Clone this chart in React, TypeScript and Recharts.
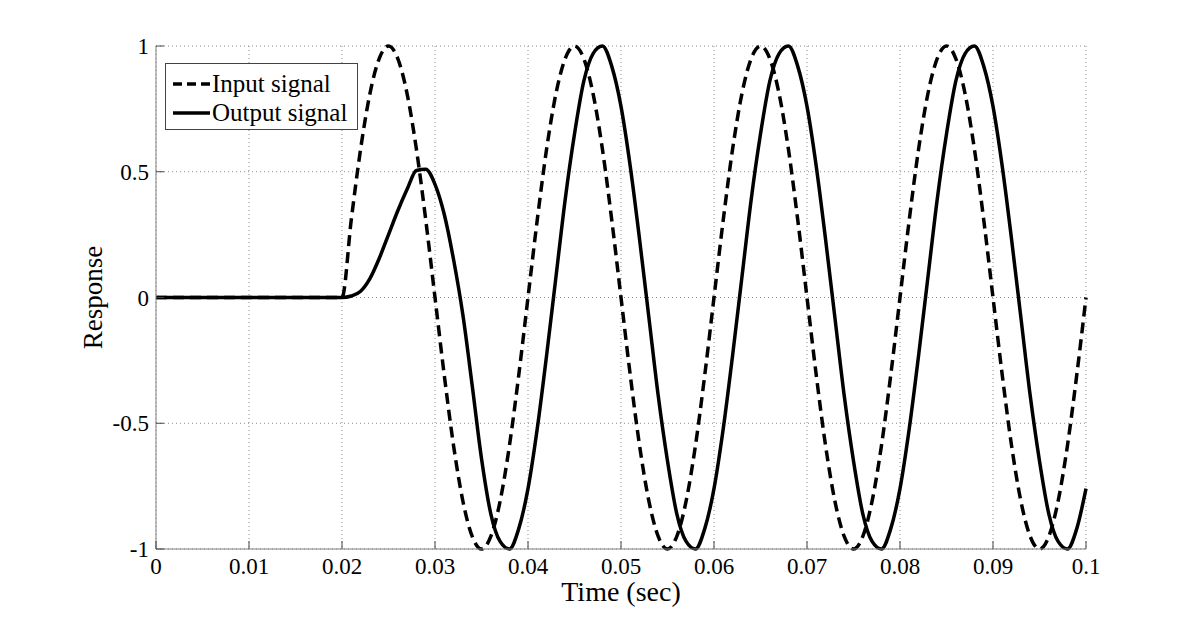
import React from "react";
import {
  LineChart,
  Line,
  XAxis,
  YAxis,
  CartesianGrid,
  Legend,
} from "recharts";

// time samples (sec)
const times = [
  0, 0.001, 0.002, 0.003, 0.004, 0.005, 0.006, 0.007, 0.008, 0.009,
  0.01, 0.011, 0.012, 0.013, 0.014, 0.015, 0.016, 0.017, 0.018, 0.019,
  0.02, 0.021, 0.022, 0.023, 0.024, 0.025, 0.026, 0.027, 0.028, 0.029,
  0.03, 0.031, 0.032, 0.033, 0.034, 0.035, 0.036, 0.037, 0.038, 0.039,
  0.04, 0.041, 0.042, 0.043, 0.044, 0.045, 0.046, 0.047, 0.048, 0.049,
  0.05, 0.051, 0.052, 0.053, 0.054, 0.055, 0.056, 0.057, 0.058, 0.059,
  0.06, 0.061, 0.062, 0.063, 0.064, 0.065, 0.066, 0.067, 0.068, 0.069,
  0.07, 0.071, 0.072, 0.073, 0.074, 0.075, 0.076, 0.077, 0.078, 0.079,
  0.08, 0.081, 0.082, 0.083, 0.084, 0.085, 0.086, 0.087, 0.088, 0.089,
  0.09, 0.091, 0.092, 0.093, 0.094, 0.095, 0.096, 0.097, 0.098, 0.099,
  0.1,
];

const inputSignal = [
  0, 0, 0, 0, 0, 0, 0, 0, 0, 0,
  0, 0, 0, 0, 0, 0, 0, 0, 0, 0,
  0, 0.31, 0.59, 0.81, 0.95, 1, 0.95, 0.81, 0.59, 0.31,
  0, -0.31, -0.59, -0.81, -0.95, -1, -0.95, -0.81, -0.59, -0.31,
  0, 0.31, 0.59, 0.81, 0.95, 1, 0.95, 0.81, 0.59, 0.31,
  0, -0.31, -0.59, -0.81, -0.95, -1, -0.95, -0.81, -0.59, -0.31,
  0, 0.31, 0.59, 0.81, 0.95, 1, 0.95, 0.81, 0.59, 0.31,
  0, -0.31, -0.59, -0.81, -0.95, -1, -0.95, -0.81, -0.59, -0.31,
  0, 0.31, 0.59, 0.81, 0.95, 1, 0.95, 0.81, 0.59, 0.31,
  0, -0.31, -0.59, -0.81, -0.95, -1, -0.95, -0.81, -0.59, -0.31,
  0,
];

const outputSignal = [
  0, 0, 0, 0, 0, 0, 0, 0, 0, 0,
  0, 0, 0, 0, 0, 0, 0, 0, 0, 0,
  0, 0.006, 0.025, 0.075, 0.155, 0.25, 0.345, 0.43, 0.505, 0.51,
  0.45, 0.33, 0.15, -0.07, -0.35, -0.64, -0.86, -0.97, -1, -0.92,
  -0.76, -0.52, -0.23, 0.08, 0.39, 0.65, 0.86, 0.97, 1, 0.92,
  0.76, 0.52, 0.23, -0.08, -0.39, -0.65, -0.86, -0.97, -1, -0.92,
  -0.76, -0.52, -0.23, 0.08, 0.39, 0.65, 0.86, 0.97, 1, 0.92,
  0.76, 0.52, 0.23, -0.08, -0.39, -0.65, -0.86, -0.97, -1, -0.92,
  -0.76, -0.52, -0.23, 0.08, 0.39, 0.65, 0.86, 0.97, 1, 0.92,
  0.76, 0.52, 0.23, -0.08, -0.39, -0.65, -0.86, -0.97, -1, -0.92,
  -0.76,
];

const xTicks = [0, 0.01, 0.02, 0.03, 0.04, 0.05, 0.06, 0.07, 0.08, 0.09, 0.1];
const yTicks = [-1, -0.5, 0, 0.5, 1];

const FONT = '"Liberation Serif", "Times New Roman", serif';
const AXIS = "#808080";
const TICK = "#444";

const data = times.map((t, i) => ({
  t,
  input: inputSignal[i],
  output: outputSignal[i],
}));

function XTick({ x, y, payload }: any) {
  return (
    <g>
      <line x1={x} x2={x} y1={y} y2={y - 8} stroke={TICK} strokeWidth={1} />
      <text x={x} y={y + 25} textAnchor="middle" fontFamily={FONT} fontSize={23} fill="#000">
        {payload.value}
      </text>
    </g>
  );
}

function YTick({ x, y, payload }: any) {
  return (
    <g>
      <line x1={x} x2={x + 8} y1={y} y2={y} stroke={TICK} strokeWidth={1} />
      <text x={x - 7} y={y + 8} textAnchor="end" fontFamily={FONT} fontSize={23} fill="#000">
        {payload.value}
      </text>
    </g>
  );
}

const legendRows = [
  { key: "input", label: "Input signal", dash: "9 5" },
  { key: "output", label: "Output signal", dash: undefined },
];

function LegendBox() {
  return (
    <div
      style={{
        width: 191,
        height: 65,
        border: `1px solid ${TICK}`,
        background: "#fff",
        fontFamily: FONT,
        fontSize: 25,
        color: "#000",
        boxSizing: "content-box",
      }}
    >
      {legendRows.map((r, i) => (
        <div
          key={r.key}
          style={{ position: "absolute", left: 0, top: 6 + i * 29, height: 29, display: "flex", alignItems: "center" }}
        >
          <svg width={47} height={10} style={{ display: "block" }}>
            <line x1={8} x2={45} y1={5} y2={5} stroke="#000" strokeWidth={3.5} strokeDasharray={r.dash} />
          </svg>
          <span style={{ whiteSpace: "nowrap", lineHeight: "29px" }}>{r.label}</span>
        </div>
      ))}
    </div>
  );
}

export default function App() {
  return (
    <div style={{ position: "absolute", left: 0, top: 0, width: 1200, height: 618, background: "#fff" }}>
      <style>{`body{margin:0;background:#fff}`}</style>
      <LineChart
        width={1200}
        height={618}
        data={data}
        margin={{ top: 46, right: 114, bottom: 9, left: 60 }}
      >
        <CartesianGrid strokeDasharray="1 3" stroke="#8a8a8a" />
        <XAxis
          dataKey="t"
          type="number"
          domain={[0, 0.1]}
          ticks={xTicks}
          height={60}
          tickSize={0}
          tickMargin={0}
          tickLine={false}
          axisLine={{ stroke: AXIS }}
          tick={<XTick />}
          interval={0}
          label={{
            value: "Time (sec)",
            position: "insideBottom",
            offset: 8,
            style: { fontFamily: FONT, fontSize: 28, fill: "#000" },
          }}
        />
        <XAxis
          xAxisId="top"
          dataKey="t"
          type="number"
          orientation="top"
          domain={[0, 0.1]}
          ticks={xTicks}
          height={0}
          mirror
          tick={false}
          tickSize={8}
          tickLine={{ stroke: TICK }}
          axisLine={{ stroke: AXIS }}
          interval={0}
        />
        <YAxis
          type="number"
          domain={[-1, 1]}
          ticks={yTicks}
          width={96}
          tickSize={0}
          tickMargin={0}
          tickLine={false}
          axisLine={{ stroke: AXIS }}
          tick={<YTick />}
          interval={0}
          label={{
            value: "Response",
            angle: -90,
            position: "insideLeft",
            offset: 32,
            style: { fontFamily: FONT, fontSize: 27, fill: "#000", textAnchor: "middle" },
          }}
        />
        <YAxis
          yAxisId="right"
          type="number"
          orientation="right"
          domain={[-1, 1]}
          ticks={yTicks}
          width={0}
          mirror
          tick={false}
          tickSize={8}
          tickLine={{ stroke: TICK }}
          axisLine={{ stroke: AXIS }}
          interval={0}
        />
        <Legend
          layout="horizontal"
          verticalAlign="middle"
          align="center"
          wrapperStyle={{ left: 165, top: 63, width: 193, height: 67 }}
          content={() => <LegendBox />}
        />
        <Line
          type="monotone"
          dataKey="input"
          name="Input signal"
          stroke="#000"
          strokeWidth={3.5}
          strokeDasharray="11 6"
          dot={false}
          isAnimationActive={false}
        />
        <Line
          type="monotone"
          dataKey="output"
          name="Output signal"
          stroke="#000"
          strokeWidth={3.5}
          dot={false}
          isAnimationActive={false}
        />
      </LineChart>
    </div>
  );
}
